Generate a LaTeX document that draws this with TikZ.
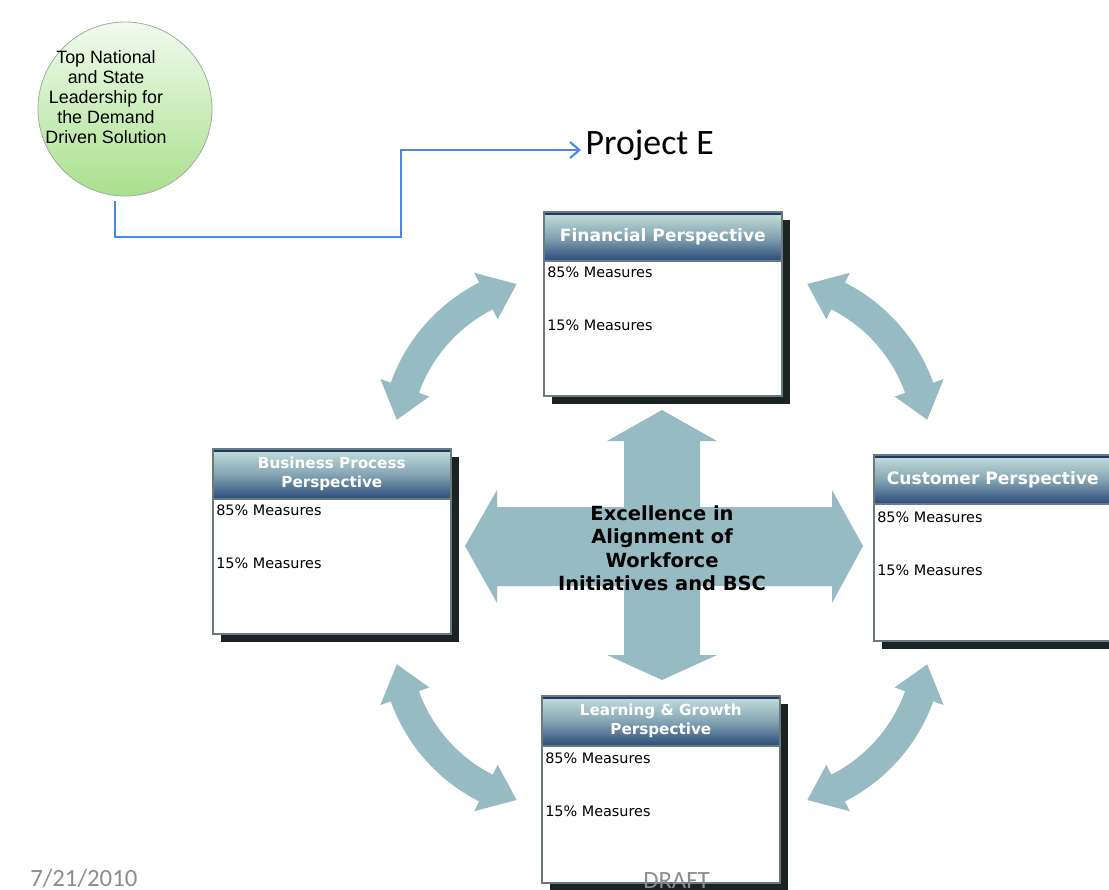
\documentclass[tikz,border=0pt]{standalone}
\usepackage{fontspec}
\setmainfont{DejaVu Sans}
\newfontfamily\arialf{Liberation Sans}
\newfontfamily\calibf{Carlito}
\usetikzlibrary{shadows,arrows.meta}
\definecolor{arcc}{HTML}{96BBC3}
\definecolor{cardb}{HTML}{6B7B7B}
\definecolor{hdtop}{HTML}{C6E0DC}
\definecolor{hdmid}{HTML}{86A6B4}
\definecolor{hdbot}{HTML}{2B4B7B}
\definecolor{navy}{HTML}{1E3868}
\definecolor{shad}{HTML}{1A2424}
\definecolor{connc}{HTML}{4A88E6}
\definecolor{greentop}{HTML}{F2FAEE}
\definecolor{greenbot}{HTML}{A9E08C}
\definecolor{circb}{HTML}{9DAE9D}
\definecolor{foot}{HTML}{8C8C8C}
\newcommand{\dblarc}[4]{%
\begin{scope}[shift={(#1,#2)}]
\pgfmathsetmacro{\arcSa}{#3+11.4}\pgfmathsetmacro{\arcEa}{#4-11.4}
\fill[arcc] (\arcSa:181) -- plot[domain=\arcSa:\arcEa, samples=40] (\x:181) -- (\arcEa:192) -- (#4:166) -- (\arcEa:140) -- (\arcEa:151) -- plot[domain=\arcEa:\arcSa, samples=40] (\x:151) -- (\arcSa:140) -- (#3:166) -- (\arcSa:192) -- cycle;
\end{scope}}
\begin{document}
\begin{tikzpicture}[x=0.75pt,y=-0.75pt,
 card/.style={rectangle, draw=cardb, line width=1.2pt, fill=white, inner sep=0pt, minimum width=178.5pt, anchor=north west, drop shadow={shadow xshift=6pt, shadow yshift=-6pt, fill=shad, opacity=1}},
 head/.style={rectangle, draw=cardb, line width=1.2pt, inner sep=0pt, minimum width=178.5pt, anchor=north west, top color=hdtop, bottom color=hdbot, middle color=hdmid, text=white, align=center, path picture={\fill[navy] (path picture bounding box.north west) rectangle ([yshift=-2.3pt]path picture bounding box.north east);}},
 hone/.style={font=\bfseries\fontsize{12.8}{15}\selectfont},
 htwo/.style={font=\bfseries\fontsize{11.4}{14.3}\selectfont},
 meas/.style={anchor=west, font=\fontsize{10.8}{13}\selectfont, inner sep=1.5pt},
 conn/.style={draw=connc, line width=1.6pt, -{Straight Barb[length=7pt,width=12pt]}},
 foottext/.style={font=\calibf\fontsize{18.6}{22}\selectfont, text=foot, anchor=base west, inner sep=0pt}
]
\useasboundingbox (0,0) rectangle (1109,889);

% curved double arrows
\dblarc{561}{444}{188.4}{254.5}
\dblarc{763}{444}{285.5}{351.6}
\dblarc{561}{640}{105.5}{171.6}
\dblarc{763}{640}{8.4}{74.5}

% central cross
\fill[arcc] (662,410) -- (717,441) -- (700,441) -- (700,507) -- (832,507) -- (832,490) -- (863,546) -- (832,603) -- (832,586) -- (700,586) -- (700,655) -- (717,655) -- (662,680) -- (607,655) -- (624,655) -- (624,586) -- (497,586) -- (497,603) -- (465,546) -- (497,490) -- (497,507) -- (624,507) -- (624,441) -- (607,441) -- cycle;
\node[font=\bfseries\fontsize{14.6}{17.6}\selectfont, align=center] (core) at (662,548) {Excellence in\\Alignment of\\Workforce\\Initiatives and BSC};

% Financial
\node[card, minimum height=138pt] (fin) at (543,211) {};
\node[head, hone, minimum height=36.75pt] (finH) at (543,211) {Financial Perspective};
\node[meas] (fin85) at (545,272) {85\% Measures};
\node[meas] (fin15) at (545,325) {15\% Measures};

% Business Process
\node[card, minimum height=138.75pt] (bus) at (212,448) {};
\node[head, htwo, minimum height=37.5pt] (busH) at (212,448) {Business Process\\Perspective};
\node[meas] (bus85) at (214,510) {85\% Measures};
\node[meas] (bus15) at (214,563) {15\% Measures};

% Customer
\node[card, minimum height=139.5pt] (cus) at (873,454) {};
\node[head, hone, minimum height=36.75pt] (cusH) at (873,454) {Customer Perspective};
\node[meas] (cus85) at (875,517) {85\% Measures};
\node[meas] (cus15) at (875,570) {15\% Measures};

% Learning & Growth
\node[card, minimum height=140.25pt] (lea) at (541,695) {};
\node[head, htwo, minimum height=37.5pt] (leaH) at (541,695) {Learning \& Growth\\Perspective};
\node[meas] (lea85) at (543,758) {85\% Measures};
\node[meas] (lea15) at (543,811) {15\% Measures};

% leadership circle
\node[circle, draw=circb, line width=0.6pt, top color=greentop, bottom color=greenbot, minimum size=130.5pt, inner sep=0pt] (circ) at (125,109) {};
\node[font=\arialf\fontsize{13.4}{15}\selectfont, align=center] (lead) at (106,97) {Top National\\and State\\Leadership for\\the Demand\\Driven Solution};

% Project E
\node[font=\calibf\fontsize{26.8}{32}\selectfont, anchor=west] (proj) at (581,145) {Project E};
\draw[conn] ([xshift=-7.5pt,yshift=-3.5pt]circ.south) |- (401,237) -- (401,150) -- ([yshift=-3.75pt]proj.west);

% footer
\node[foottext] (date) at (30,886) {7/21/2010};
\node[foottext] (draft) at (643,888) {DRAFT};
\end{tikzpicture}
\end{document}
